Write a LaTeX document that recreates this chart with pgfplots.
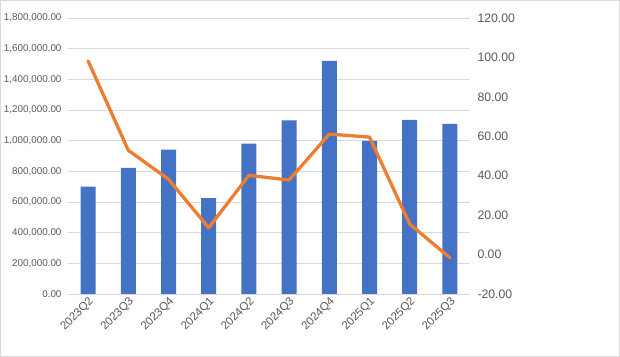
\documentclass[border=0pt]{standalone}
\usepackage{pgfplots}
\pgfplotsset{compat=1.18}
\usepackage{fontspec}
\setmainfont{Liberation Sans}
\definecolor{barblue}{HTML}{4472C4}
\definecolor{lineorange}{HTML}{ED7D31}
\definecolor{gridgray}{HTML}{D9D9D9}
\definecolor{txtgray}{HTML}{595959}
\begin{document}
\begin{tikzpicture}
\draw[gridgray, line width=1bp] (0.5bp,0.5bp) rectangle (619.5bp,356.5bp);
\begin{axis}[
  at={(68bp,63bp)}, anchor=south west, scale only axis,
  width=402bp, height=276bp,
  xmin=-0.5, xmax=9.5, ymin=0, ymax=1800000,
  ytick={0,200000,...,1800000},
  scaled y ticks=false,
  ybar, bar width=15bp,
  axis line style={draw=none}, major tick length=0pt,
  ymajorgrids, grid style={gridgray, line width=0.75bp},
  xtick={0,...,9},
  xticklabels={2023Q2,2023Q3,2023Q4,2024Q1,2024Q2,2024Q3,2024Q4,2025Q1,2025Q2,2025Q3},
  x tick label style={rotate=45, anchor=north east, font=\fontsize{11.5}{12}\selectfont, text=txtgray, inner sep=1.5bp},
  y tick label style={font=\fontsize{9.9}{10}\selectfont, text=txtgray, xshift=-3bp},
  yticklabel style={/pgf/number format/.cd, fixed, fixed zerofill, precision=2, 1000 sep={,}, assume math mode=true},
]
\addplot[fill=barblue, draw=none] coordinates {
(0,700000) (1,822000) (2,941000) (3,626000) (4,980000)
(5,1133000) (6,1520000) (7,998000) (8,1135000) (9,1109000)};
\end{axis}
\begin{axis}[
  at={(68bp,63bp)}, anchor=south west, scale only axis,
  width=402bp, height=276bp,
  xmin=-0.5, xmax=9.5, ymin=-20, ymax=120,
  ytick={-20,0,...,120},
  axis y line*=right, axis x line=none,
  axis line style={draw=none}, major tick length=0pt,
  xtick=\empty,
  y tick label style={font=\fontsize{12.3}{12}\selectfont, text=txtgray, xshift=4bp},
  yticklabel style={/pgf/number format/.cd, fixed, fixed zerofill, precision=2, assume math mode=true},
  clip=false,
]
\addplot[lineorange, line width=3.3bp, line join=round, line cap=round] coordinates {
(0,98.2) (1,52.9) (2,38.2) (3,13.6) (4,40.2)
(5,37.8) (6,61.1) (7,59.6) (8,15.5) (9,-1.6)};
\end{axis}
\end{tikzpicture}
\end{document}
